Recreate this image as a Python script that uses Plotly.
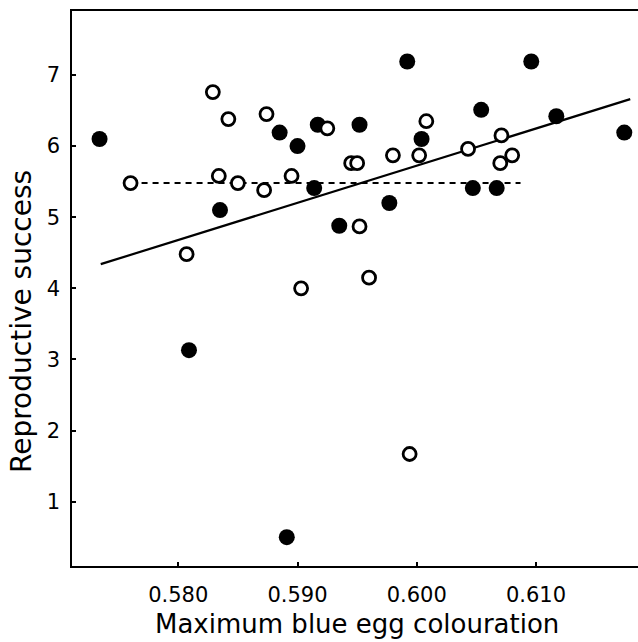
import plotly.graph_objects as go

# Filled (solid) circles
filled_x = [0.5734, 0.5809, 0.5835, 0.5885, 0.5891, 0.5900, 0.5914, 0.5917, 0.5935,
            0.5952, 0.5977, 0.5992, 0.6004, 0.6047, 0.6054, 0.6067, 0.6096, 0.6117, 0.6174]
filled_y = [6.10, 3.13, 5.10, 6.19, 0.50, 6.00, 5.41, 6.30, 4.88,
            6.30, 5.20, 7.19, 6.10, 5.41, 6.51, 5.41, 7.19, 6.42, 6.19]

# Open circles
open_x = [0.5760, 0.5807, 0.5829, 0.5834, 0.5842, 0.5850, 0.5872, 0.5874, 0.5895,
          0.5903, 0.5925, 0.5945, 0.5950, 0.5952, 0.5960, 0.5980, 0.5994, 0.6002,
          0.6008, 0.6043, 0.6070, 0.6071, 0.6080]
open_y = [5.48, 4.48, 6.76, 5.58, 6.38, 5.48, 5.38, 6.45, 5.58,
          4.00, 6.25, 5.76, 5.76, 4.87, 4.15, 5.87, 1.67, 5.87,
          6.35, 5.96, 5.76, 6.15, 5.87]

# Regression lines
solid_line_x = [0.5735, 0.6179]
solid_line_y = [4.34, 6.66]
dashed_line_x = [0.5760, 0.6087]
dashed_line_y = [5.48, 5.48]

x_tickvals = [0.580, 0.590, 0.600, 0.610]
x_ticktext = ["0.580", "0.590", "0.600", "0.610"]
y_tickvals = [1, 2, 3, 4, 5, 6, 7]

x_title = "Maximum blue egg colouration"
y_title = "Reproductive success"

fig = go.Figure()
fig.add_trace(go.Scatter(x=dashed_line_x, y=dashed_line_y, mode="lines",
                         line=dict(color="black", width=2, dash="6px,5px"), showlegend=False))
fig.add_trace(go.Scatter(x=solid_line_x, y=solid_line_y, mode="lines",
                         line=dict(color="black", width=2.2), showlegend=False))
fig.add_trace(go.Scatter(x=filled_x, y=filled_y, mode="markers",
                         marker=dict(size=16, color="black", line=dict(width=0)), showlegend=False))
fig.add_trace(go.Scatter(x=open_x, y=open_y, mode="markers",
                         marker=dict(size=13, color="white", line=dict(color="black", width=2.8)),
                         showlegend=False))

font_family = "DejaVu Sans, Liberation Sans, Arial, sans-serif"
fig.update_layout(
    width=638, height=642,
    margin=dict(l=72, r=0, t=11, b=76),
    paper_bgcolor="white", plot_bgcolor="white",
    font=dict(family=font_family, color="black", size=21),
    xaxis=dict(range=[0.57109, 0.61855], tickvals=x_tickvals, ticktext=x_ticktext,
               showgrid=False, zeroline=False, showline=True, linecolor="black", linewidth=1.5,
               mirror=True, ticks="inside", ticklen=4, tickcolor="black", tickwidth=1.5,
               ticklabelstandoff=9, automargin=False),
    yaxis=dict(range=[0.095, 7.90], tickvals=y_tickvals,
               showgrid=False, zeroline=False, showline=True, linecolor="black", linewidth=1.5,
               mirror=False, ticks="inside", ticklen=4, tickcolor="black", tickwidth=1.5,
               ticklabelstandoff=6, automargin=False),
    annotations=[
        dict(text=x_title, xref="paper", yref="paper", x=0.5035, y=-0.105,
             xanchor="center", yanchor="middle", showarrow=False, font=dict(size=26)),
        dict(text=y_title, xref="paper", yref="paper", x=-0.088, y=0.44,
             xanchor="center", yanchor="middle", showarrow=False, textangle=-90,
             font=dict(size=28)),
    ],
)

fig.write_html("out.html", config={"displayModeBar": False},
               post_script="document.body.style.margin='0';document.body.style.overflow='hidden';")
